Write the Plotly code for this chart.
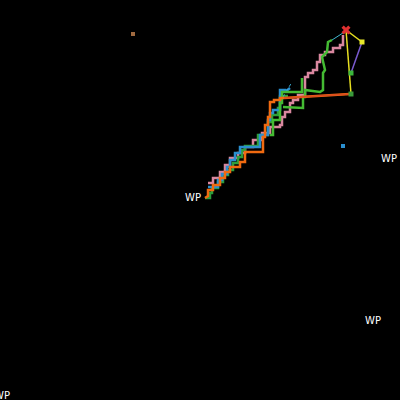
import plotly.graph_objects as go

# Path coordinates (map units)
orange_x = [205,208,208,213,213,220,220,225,225,230,230,240,240,245,245,263,263,265,265,268,268,270,270,274,274,280,280,284,350]
orange_y = [198,196,190,190,185,185,178,178,172,172,167,167,162,162,152,152,137,137,125,125,117,117,102,102,100,100,98,98,94]

blue_x = [208,218,218,222,222,227,227,230,230,235,235,240,240,260,260,268,268,270,270,273,273,280,280,285,285,290]
blue_y = [187,187,180,180,174,174,167,167,160,160,153,153,147,147,135,135,120,120,113,113,110,110,90,90,92,88]
blue_tail_x = [283,292]
blue_tail_y = [97,82]

dgreen_x = [205,210,210,212,212,218,218,223,223,228,228,233,233,238,238,242,242,245,245,258,258,268,268,272,272,278,278,280,280,288]
dgreen_y = [198,198,193,193,188,188,182,182,175,175,170,170,163,163,157,157,150,150,146,146,135,135,122,122,115,115,108,108,96,96]

lgreen_x = [270,273,273,280,280,282,282,302,302]
lgreen_y = [135,135,120,120,103,103,92,92,78]
lgreen2_x = [283,303,303,305,305,320,323,323,325,323,322,327,328,332]
lgreen2_y = [107,108,97,97,90,92,90,73,70,60,57,52,42,40]

pink_x = [208,213,213,220,220,225,225,230,230,238,238,245,245,253,253,262,262,270,270,280,280,282,282,285,285,290,290,293,293,298,298,305,305,308,308,313,313,317,317,320,320,325,325,333,333,340,340,343,343]
pink_y = [183,183,178,178,172,172,165,165,158,158,153,153,147,147,140,140,133,133,127,127,125,125,117,117,112,112,103,103,100,100,95,95,77,77,73,73,70,70,62,62,55,55,52,52,48,48,45,45,35]

target_x = [346]
target_y = [30]
wp_sq_x = [362, 351, 351]
wp_sq_y = [42, 73, 94]
wp_sq_colors = ["#e8e82a", "#3cb83c", "#3a9a3a"]

label_x = [193, 389, 373, 2]
label_y = [198, 159, 321, 396]
label_text = ["WP", "WP", "WP", "WP"]

fig = go.Figure()

def path(x, y, color, width=2.5, dash=None):
    fig.add_trace(go.Scatter(x=x, y=y, mode="lines",
                             line=dict(color=color, width=width, dash=dash),
                             hoverinfo="skip"))

path(pink_x, pink_y, "#d9879f")
path(dgreen_x, dgreen_y, "#2e9e3a")
path(blue_x, blue_y, "#2a8fcf")
path(blue_tail_x, blue_tail_y, "#3ab0d8", 1, "dot")
path(lgreen_x, lgreen_y, "#44bb33")
path(lgreen2_x, lgreen2_y, "#44bb33")
path(orange_x, orange_y, "#f06a10")
# guidance lines
path([332, 346], [40, 31], "#40b8d0", 1)
path([346, 351], [30, 94], "#e8e020", 1.5)
path([346, 362], [30, 42], "#e8e020", 1.5)
path([362, 351], [42, 73], "#7a5ad0", 1.5)
path([284, 350], [98, 94], "#d84a20", 1.5)

fig.add_trace(go.Scatter(x=wp_sq_x, y=wp_sq_y, mode="markers",
                         marker=dict(symbol="square", size=5, color=wp_sq_colors),
                         hoverinfo="skip"))
fig.add_trace(go.Scatter(x=target_x, y=target_y, mode="markers",
                         marker=dict(symbol="x", size=8, color="#e03030"),
                         hoverinfo="skip"))
fig.add_trace(go.Scatter(x=[343, 133], y=[146, 34], mode="markers",
                         marker=dict(symbol="square", size=4, color=["#2a8fcf", "#a06a40"]),
                         hoverinfo="skip"))
fig.add_trace(go.Scatter(x=label_x, y=label_y, mode="text", text=label_text,
                         textfont=dict(color="white", size=10, family="DejaVu Sans"),
                         cliponaxis=False, hoverinfo="skip"))

fig.update_layout(
    width=400, height=400, showlegend=False,
    margin=dict(l=0, r=0, t=0, b=0),
    paper_bgcolor="black", plot_bgcolor="black",
    xaxis=dict(range=[0, 400], visible=False, fixedrange=True),
    yaxis=dict(range=[400, 0], visible=False, fixedrange=True),
)
fig.write_html("out.html", config={"displayModeBar": False},
               post_script="document.body.style.margin='0';document.body.style.background='black';")
